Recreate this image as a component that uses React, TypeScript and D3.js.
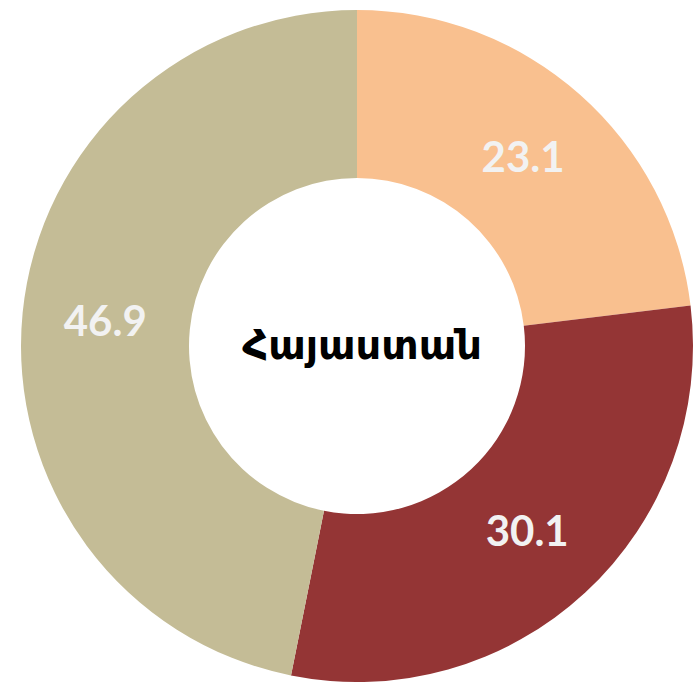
import React from "react";
import * as d3 from "d3";

const categories = ["A", "B", "C"];
const values = [23.1, 30.1, 46.9];
const colors = ["#F9C08F", "#943535", "#C4BC96"];
const centerLabel = "Հայաստան";

const W = 694;
const H = 682;
const cx = 357;
const cy = 346;
const outerR = 336;
const innerR = 168;

export default function App() {
  const pie = d3.pie<number>().sort(null).value((d) => d);
  const arcs = pie(values);
  const arcGen = d3.arc<d3.PieArcDatum<number>>().innerRadius(innerR).outerRadius(outerR);
  return (
    <svg width={W} height={H} style={{ position: "absolute", left: 0, top: 0, background: "#fff" }}>
      <g transform={`translate(${cx},${cy})`}>
        {arcs.map((a, i) => (
          <path key={categories[i]} d={arcGen(a) || ""} fill={colors[i]} />
        ))}
        {arcs.map((a, i) => {
          const [x, y] = arcGen.centroid(a);
          return (
            <text
              key={"t" + i}
              x={x - 1}
              y={y + 15}
              textAnchor="middle"
              fill="#F2F2F2"
              style={{ fontFamily: "Lato, 'Open Sans', sans-serif", fontWeight: 700, fontSize: 42 }}
            >
              {values[i].toFixed(1)}
            </text>
          );
        })}
        <text
          x={5}
          y={13}
          textAnchor="middle"
          fill="#000"
          style={{ fontFamily: "'Noto Sans', 'DejaVu Sans', sans-serif", fontWeight: 700, fontSize: 40 }}
        >
          {centerLabel}
        </text>
      </g>
    </svg>
  );
}
